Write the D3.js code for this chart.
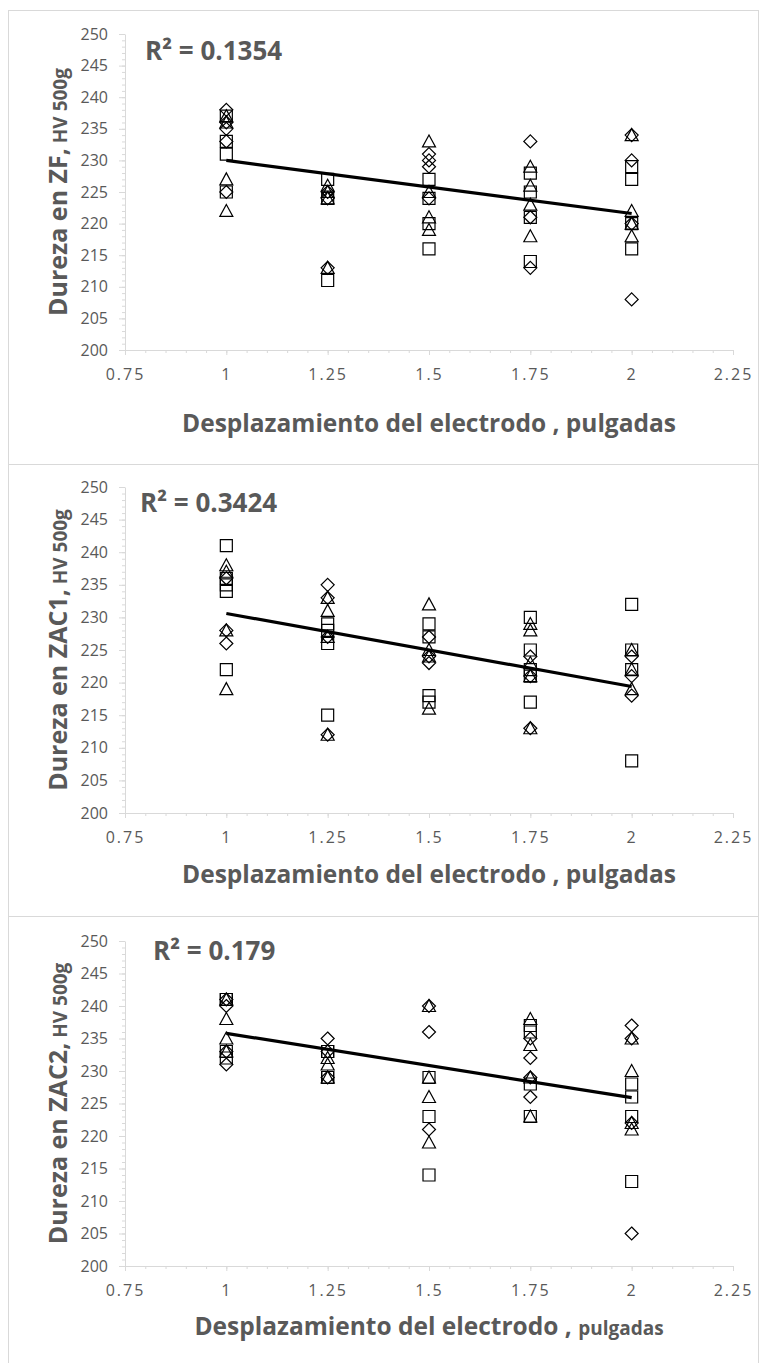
<!DOCTYPE html>
<html lang="es">
<head>
<meta charset="UTF-8" />
<title>Dureza vs desplazamiento del electrodo</title>
<script src="https://d3js.org/d3.v7.min.js"></script>
<style>
  body { margin: 0; background: #fff; }
  svg { display: block; font-family: 'Open Sans', sans-serif; }
  .axis path, .axis line { stroke: #d9d9d9; }
  .axis text { fill: #595959; font-size: 16px; font-family: 'Open Sans', sans-serif; }
  .title { fill: #595959; font-weight: bold; }
  .frame { fill: none; stroke: #d9d9d9; }
</style>
</head>
<body>
<div id="chart"></div>
<script>
const xLevels = [1, 1.25, 1.5, 1.75, 2];
const xTicks = [0.75, 1, 1.25, 1.5, 1.75, 2, 2.25];
const yTicks = [200, 205, 210, 215, 220, 225, 230, 235, 240, 245, 250];

// ZF  (one inner list per x level)
const zfDiamonds  = [[238, 236, 235, 233, 225], [225, 224, 213], [231, 230, 229, 224], [233, 221, 213], [234, 230, 220, 208]];
const zfSquares   = [[237, 233, 231, 225], [227, 224, 211], [227, 224, 220, 216], [228, 225, 221, 214], [229, 227, 220, 216]];
const zfTriangles = [[237, 236, 227, 222], [226, 225, 224, 213], [233, 225, 221, 219], [229, 226, 223, 218], [234, 222, 220, 218]];
const zfTrend = [230.0, 221.6];

// ZAC1
const zac1Diamonds  = [[236, 228, 226], [235, 233, 227, 212], [227, 224, 223], [224, 221, 213], [224, 221, 218]];
const zac1Squares   = [[241, 236, 235, 234, 222], [229, 228, 226, 215], [229, 227, 218, 217], [230, 225, 222, 221, 217], [232, 225, 222, 208]];
const zac1Triangles = [[238, 237, 228, 219], [233, 231, 227, 212], [232, 225, 224, 216], [229, 228, 223, 221, 213], [225, 222, 219]];
const zac1Trend = [230.6, 219.4];

// ZAC2
const zac2Diamonds  = [[241, 240, 233, 231], [235, 233, 229], [240, 236, 221], [235, 232, 229, 226], [237, 235, 222, 205]];
const zac2Squares   = [[241, 241, 233, 232], [233, 233, 229, 229], [229, 223, 214], [237, 236, 228, 223], [228, 226, 223, 213]];
const zac2Triangles = [[241, 238, 235, 233], [232, 231, 229], [240, 229, 226, 219], [238, 234, 229, 223], [235, 230, 222, 221]];
const zac2Trend = [235.8, 225.9];

const panels = [
  { yTitle: "Dureza en ZF,", yUnit: " HV 500g", r2: "R² = 0.1354",
    diamonds: zfDiamonds, squares: zfSquares, triangles: zfTriangles, trend: zfTrend,
    box: [10, 464], plot: [34, 350], r2Pos: [145, 60], xTitleY: 432, smallUnit: false },
  { yTitle: "Dureza en ZAC1,", yUnit: " HV 500g", r2: "R² = 0.3424",
    diamonds: zac1Diamonds, squares: zac1Squares, triangles: zac1Triangles, trend: zac1Trend,
    box: [464, 916], plot: [487, 813], r2Pos: [140, 512], xTitleY: 883, smallUnit: false },
  { yTitle: "Dureza en ZAC2,", yUnit: " HV 500g", r2: "R² = 0.179",
    diamonds: zac2Diamonds, squares: zac2Squares, triangles: zac2Triangles, trend: zac2Trend,
    box: [916, 1372], plot: [941, 1266], r2Pos: [153, 960], xTitleY: 1335, smallUnit: true }
];

const width = 760, height = 1363;
const left = 125, right = 733;

const shapes = {
  diamond: "M0,-6.5L6.5,0L0,6.5L-6.5,0Z",
  square: "M-6,-6H6V6H-6Z",
  triangle: "M0,-6.5L6.5,5.5H-6.5Z"
};

const svg = d3.select("#chart").append("svg")
  .attr("width", width)
  .attr("height", height);

const x = d3.scaleLinear().domain([0.75, 2.25]).range([left, right]);

panels.forEach(p => {
  const g = svg.append("g");

  g.append("rect").attr("class", "frame")
    .attr("x", 8.5).attr("y", p.box[0] + 0.5)
    .attr("width", 750).attr("height", p.box[1] - p.box[0]);

  const y = d3.scaleLinear().domain([200, 250]).range([p.plot[1], p.plot[0]]);

  // minor ticks first, then major axis on top
  g.append("g").attr("class", "axis")
    .attr("transform", `translate(${left},0)`)
    .call(d3.axisLeft(y).tickValues(d3.range(200, 251, 1)).tickSize(3).tickFormat(""))
    .call(a => a.select(".domain").remove());
  g.append("g").attr("class", "axis")
    .attr("transform", `translate(${left},0)`)
    .call(d3.axisLeft(y).tickValues(yTicks).tickSize(6).tickPadding(11).tickSizeOuter(0));

  g.append("g").attr("class", "axis")
    .attr("transform", `translate(0,${p.plot[1]})`)
    .call(d3.axisBottom(x).tickValues(d3.range(0.75, 2.2501, 0.05)).tickSize(3).tickFormat(""))
    .call(a => a.select(".domain").remove());
  g.append("g").attr("class", "axis")
    .attr("transform", `translate(0,${p.plot[1]})`)
    .call(d3.axisBottom(x).tickValues(xTicks).tickSize(5).tickSizeOuter(0).tickFormat(d => String(d)))
    .call(a => a.selectAll("text").attr("y", 30).attr("dy", null).style("letter-spacing", "2px"));

  // markers
  const pts = [];
  [["diamond", p.diamonds], ["square", p.squares], ["triangle", p.triangles]].forEach(([shape, vals]) => {
    vals.forEach((list, i) => list.forEach(v => pts.push({ x: xLevels[i], y: v, shape })));
  });
  g.append("g").selectAll("path")
    .data(pts)
    .enter().append("path")
    .attr("transform", d => `translate(${x(d.x)},${y(d.y)})`)
    .attr("d", d => shapes[d.shape])
    .attr("fill", "none")
    .attr("stroke", "#000")
    .attr("stroke-width", 1.2);

  // linear trend line
  g.append("path")
    .datum([[1, p.trend[0]], [2, p.trend[1]]])
    .attr("d", d3.line().x(d => x(d[0])).y(d => y(d[1])))
    .attr("stroke", "#000")
    .attr("stroke-width", 3.2)
    .attr("fill", "none");

  g.append("text").attr("class", "title")
    .attr("x", p.r2Pos[0]).attr("y", p.r2Pos[1])
    .style("font-size", "26px")
    .text(p.r2);

  const yt = g.append("text").attr("class", "title")
    .attr("transform", `translate(67,${(p.plot[0] + p.plot[1]) / 2}) rotate(-90)`)
    .attr("text-anchor", "middle")
    .style("font-size", "25px");
  yt.append("tspan").text(p.yTitle);
  yt.append("tspan").style("font-size", "19px").text(p.yUnit);

  const xt = g.append("text").attr("class", "title")
    .attr("x", (left + right) / 2).attr("y", p.xTitleY)
    .attr("text-anchor", "middle")
    .style("font-size", "24.5px");
  xt.append("tspan").text("Desplazamiento del electrodo , ");
  xt.append("tspan").style("font-size", p.smallUnit ? "19px" : "24.5px").text("pulgadas");
});
</script>
</body>
</html>
